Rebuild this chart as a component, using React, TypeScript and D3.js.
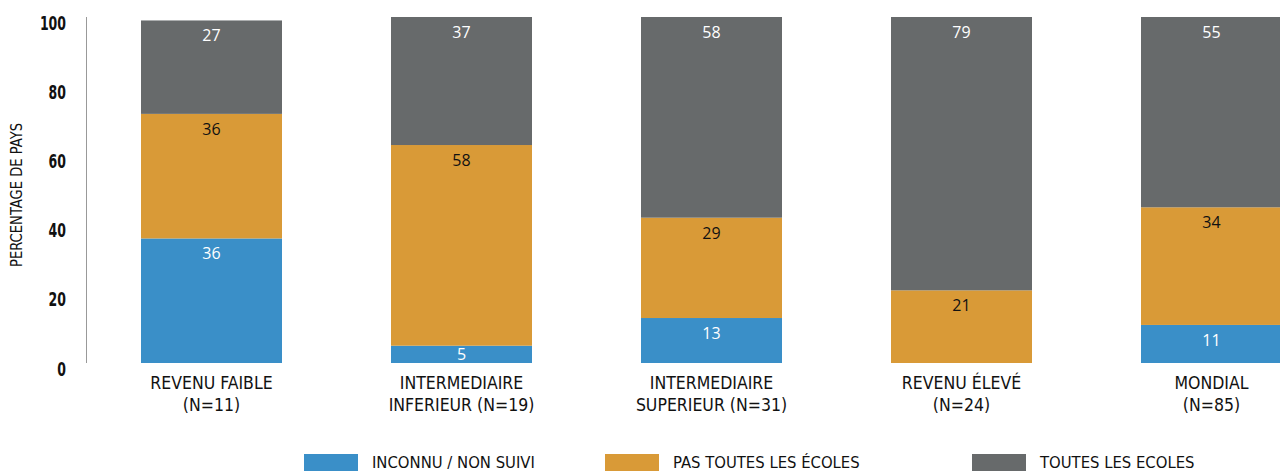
import * as d3 from "d3";
import React from "react";

const categories = ["REVENU FAIBLE|(N=11)", "INTERMEDIAIRE|INFERIEUR (N=19)", "INTERMEDIAIRE|SUPERIEUR (N=31)", "REVENU ÉLEVÉ|(N=24)", "MONDIAL|(N=85)"];
const inconnu = [36, 5, 13, 0, 11];
const pasToutes = [36, 58, 29, 21, 34];
const toutes = [27, 37, 58, 79, 55];
const seriesNames = ["INCONNU / NON SUIVI", "PAS TOUTES LES ÉCOLES", "TOUTES LES ECOLES"];
const colors = ["#3a8fc8", "#d99a37", "#676a6b"];
const labelColors = ["#ffffff", "#111111", "#ffffff"];
const yTicks = [0, 20, 40, 60, 80, 100];

const condensed = "'Liberation Sans Narrow', 'DejaVu Sans Condensed', 'DejaVu Sans', sans-serif";

export default function App() {
  const width = 1280;
  const height = 471;

  const rows = categories.map((c, i) => ({ cat: c, a: inconnu[i], b: pasToutes[i], c: toutes[i] }));
  const keys = ["a", "b", "c"];
  const stacked = d3.stack<any>().keys(keys)(rows);

  const x = d3.scaleBand().domain(categories).range([86.5, 1336.5]).paddingInner(0.436).paddingOuter(0.218);
  const y = d3.scaleLinear().domain([0, 100]).range([363, 17]);

  const legendX = [304, 605, 972];

  return (
    <div style={{ position: "absolute", left: 0, top: 0 }}>
      <svg width={width} height={height} style={{ display: "block" }}>
        {/* axis line */}
        <line x1={86.5} x2={86.5} y1={17} y2={363} stroke="#999" strokeWidth={1} />
        {yTicks.map((t) => (
          <text
            key={t}
            x={66}
            y={y(t) + 12.5}
            textAnchor="end"
            fontFamily={condensed}
            fontWeight="bold"
            fontSize={20}
            fill="#111"
            textLength={String(t).length * 8.7}
            lengthAdjust="spacingAndGlyphs"
          >
            {t}
          </text>
        ))}
        <text
          transform="translate(22,195) rotate(-90)"
          textAnchor="middle"
          fontFamily={condensed}
          fontSize={15}
          fill="#111"
          textLength={144}
          lengthAdjust="spacingAndGlyphs"
        >
          PERCENTAGE DE PAYS
        </text>

        {stacked.map((s, si) => (
          <g key={si} fill={colors[si]}>
            {s.map((d, i) => (
              <rect key={i} x={x(categories[i])} width={x.bandwidth()} y={y(d[1])} height={y(d[0]) - y(d[1])} />
            ))}
          </g>
        ))}

        {stacked.map((s, si) => (
          <g key={"l" + si} fill={labelColors[si]} fontFamily="'Open Sans', sans-serif" fontSize={16} textAnchor="middle">
            {s.map((d, i) => {
              const v = [inconnu, pasToutes, toutes][si][i];
              if (!v) return null;
              const top = y(d[1]);
              const mid = (y(d[0]) + top) / 2;
              const cy = Math.min(top + 15.5, mid);
              return (
                <text key={i} x={(x(categories[i]) as number) + x.bandwidth() / 2} y={cy + 5.5}>
                  {v}
                </text>
              );
            })}
          </g>
        ))}

        {categories.map((c) => {
          const [l1, l2] = c.split("|");
          const cx = (x(c) as number) + x.bandwidth() / 2;
          return (
            <text key={c} x={cx} textAnchor="middle" fontFamily={condensed} fontSize={17.5} fill="#111">
              <tspan x={cx} y={389}>{l1}</tspan>
              <tspan x={cx} y={410.5}>{l2}</tspan>
            </text>
          );
        })}

        {seriesNames.map((n, i) => (
          <g key={n}>
            <rect x={legendX[i]} y={454} width={54} height={17} fill={colors[i]} />
            <text x={legendX[i] + 68} y={467.5} fontFamily={condensed} fontSize={16.5} fill="#111">
              {n}
            </text>
          </g>
        ))}
      </svg>
    </div>
  );
}
